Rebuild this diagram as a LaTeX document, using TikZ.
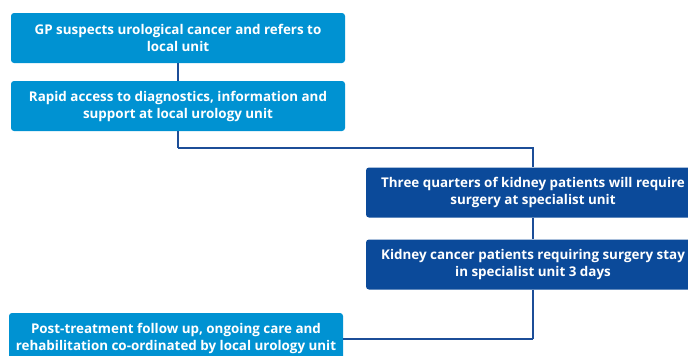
\documentclass[tikz,border=0pt]{standalone}
\usepackage{fontspec}
\setmainfont{Open Sans}
\usepackage{tikz}
\usetikzlibrary{calc}
\definecolor{nhs_light}{RGB}{0, 146, 210}
\definecolor{nhs_dark}{RGB}{11, 74, 154}
\definecolor{nhs_line}{RGB}{28, 78, 152}
\tikzstyle{lb}=[rectangle,rounded corners=3pt,fill=nhs_light,text=white,
  font=\fontsize{13.4}{17}\selectfont\bfseries,align=center,
  minimum width=334pt,minimum height=50pt,inner sep=0pt]
\tikzstyle{db}=[lb,fill=nhs_dark]
\tikzstyle{none}=[inner sep=0pt,minimum size=0pt]
\tikzstyle{conn}=[draw=nhs_line,line width=1.3pt]

\begin{document}
\begin{tikzpicture}[x=1pt,y=-1pt]
            \useasboundingbox (0, 0) rectangle (688, 356);
            \node [style=lb] (0) at (178, 38) {GP suspects urological cancer and refers to\\local unit};
            \node [style=lb] (1) at (178, 106) {Rapid access to diagnostics, information and\\support at local urology unit};
            \node [style=db] (2) at (533, 192.5) {Three quarters of kidney patients will require\\surgery at specialist unit};
            \node [style=db] (3) at (533, 264.5) {Kidney cancer patients requiring surgery stay\\in specialist unit 3 days};
            \node [style=lb] (4) at (176, 338) {Post-treatment follow up, ongoing care and\\rehabilitation co-ordinated by local urology unit};
            \node [style=none] (5) at (178, 148) {};
            \node [style=none] (6) at (533, 339) {};
            \draw [style=conn] (0) to (1);
            \draw [style=conn] (1) to (5.center);
            \draw [style=conn] (5.center) -| (2);
            \draw [style=conn] (2) to (3);
            \draw [style=conn] (3) to (6.center);
            \draw [style=conn] (6.center) to (4.east |- 6.center);
    \end{tikzpicture}
\end{document}
